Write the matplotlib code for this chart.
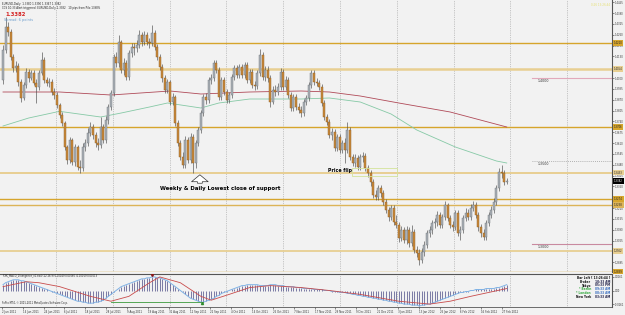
import numpy as np
import matplotlib
matplotlib.use("Agg")
import matplotlib.pyplot as plt
import matplotlib.transforms as mtransforms
from matplotlib.patches import Rectangle

# ---- daily candles (EURUSD), open of each bar = previous close ----
first_open = 1.3988
closes = [
    1.4168, 1.4306, 1.4276, 1.4126, 1.4060, 1.4072, 1.3976, 1.3880, 1.3958, 1.4036,
    1.4000, 1.4030, 1.3970, 1.3946, 1.4030, 1.4108, 1.3988, 1.3970, 1.3976, 1.3916,
    1.3898, 1.3838, 1.3778, 1.3730, 1.3586, 1.3508, 1.3628, 1.3496, 1.3586, 1.3466,
    1.3460, 1.3586, 1.3610, 1.3670, 1.3706, 1.3658, 1.3610, 1.3598, 1.3706, 1.3628,
    1.3748, 1.3826, 1.3910, 1.4126, 1.4090, 1.4216, 1.4048, 1.4090, 1.4006, 1.4150,
    1.4186, 1.4180, 1.4198, 1.4258, 1.4216, 1.4258, 1.4216, 1.4210, 1.4270, 1.4186,
    1.4126, 1.4066, 1.4000, 1.3928, 1.3976, 1.3856, 1.3886, 1.3730, 1.3610, 1.3526,
    1.3478, 1.3628, 1.3508, 1.3646, 1.3490, 1.3610, 1.3688, 1.3790, 1.3886, 1.3868,
    1.3988, 1.4000, 1.4090, 1.4048, 1.3886, 1.3988, 1.3916, 1.3868, 1.3898, 1.4006,
    1.4060, 1.4018, 1.4066, 1.4018, 1.4078, 1.3988, 1.4036, 1.3958, 1.3952, 1.4030,
    1.4138, 1.4006, 1.4048, 1.4000, 1.3856, 1.3928, 1.3916, 1.3946, 1.4036, 1.3946,
    1.3988, 1.3898, 1.3820, 1.3886, 1.3826, 1.3808, 1.3790, 1.3856, 1.3880, 1.3958,
    1.4030, 1.3976, 1.3970, 1.3946, 1.3850, 1.3766, 1.3736, 1.3658, 1.3676, 1.3580,
    1.3646, 1.3568, 1.3610, 1.3568, 1.3688, 1.3526, 1.3490, 1.3520, 1.3466, 1.3526,
    1.3532, 1.3460, 1.3430, 1.3376, 1.3298, 1.3286, 1.3340, 1.3310, 1.3256, 1.3208,
    1.3166, 1.3220, 1.3136, 1.3118, 1.3040, 1.3088, 1.3028, 1.3088, 1.3010, 1.3076,
    1.2968, 1.2950, 1.2908, 1.2956, 1.2998, 1.3070, 1.3088, 1.3130, 1.3136, 1.3178,
    1.3118, 1.3166, 1.3238, 1.3160, 1.3118, 1.3106, 1.3190, 1.3070, 1.3088, 1.3160,
    1.3190, 1.3166, 1.3220, 1.3238, 1.3178, 1.3106, 1.3070, 1.3046, 1.3130, 1.3178,
    1.3208, 1.3256, 1.3340, 1.3436, 1.3430, 1.3376, 1.3382]
highs = [
    1.4198, 1.4366, 1.4336, 1.4294, 1.4144, 1.4102, 1.4090, 1.3994, 1.3976, 1.4060,
    1.4054, 1.4048, 1.4048, 1.3994, 1.4048, 1.4156, 1.4126, 1.4006, 1.4000, 1.3994,
    1.3940, 1.3916, 1.3850, 1.3796, 1.3742, 1.3598, 1.3646, 1.3640, 1.3604, 1.3598,
    1.3508, 1.3610, 1.3634, 1.3700, 1.3736, 1.3724, 1.3676, 1.3640, 1.3766, 1.3724,
    1.3772, 1.3844, 1.3928, 1.4144, 1.4156, 1.4258, 1.4228, 1.4120, 1.4108, 1.4168,
    1.4210, 1.4210, 1.4228, 1.4288, 1.4276, 1.4282, 1.4276, 1.4240, 1.4318, 1.4288,
    1.4204, 1.4144, 1.4084, 1.4018, 1.3994, 1.3988, 1.3910, 1.3898, 1.3748, 1.3628,
    1.3556, 1.3652, 1.3646, 1.3670, 1.3664, 1.3628, 1.3706, 1.3808, 1.3904, 1.3910,
    1.4006, 1.4024, 1.4108, 1.4108, 1.4066, 1.4006, 1.4006, 1.3934, 1.3916, 1.4024,
    1.4078, 1.4078, 1.4084, 1.4084, 1.4096, 1.4096, 1.4054, 1.4054, 1.3982, 1.4048,
    1.4174, 1.4156, 1.4072, 1.4072, 1.4018, 1.3952, 1.3958, 1.3970, 1.4060, 1.4054,
    1.4012, 1.4006, 1.3916, 1.3904, 1.3904, 1.3850, 1.3832, 1.3874, 1.3898, 1.3976,
    1.4048, 1.4048, 1.4000, 1.3988, 1.3964, 1.3868, 1.3784, 1.3754, 1.3700, 1.3694,
    1.3664, 1.3664, 1.3628, 1.3640, 1.3736, 1.3706, 1.3544, 1.3544, 1.3538, 1.3544,
    1.3556, 1.3550, 1.3478, 1.3448, 1.3394, 1.3328, 1.3358, 1.3358, 1.3328, 1.3274,
    1.3226, 1.3238, 1.3238, 1.3178, 1.3136, 1.3112, 1.3106, 1.3112, 1.3106, 1.3118,
    1.3094, 1.2992, 1.2974, 1.2980, 1.3022, 1.3088, 1.3112, 1.3148, 1.3160, 1.3202,
    1.3196, 1.3184, 1.3262, 1.3250, 1.3178, 1.3142, 1.3208, 1.3208, 1.3112, 1.3178,
    1.3220, 1.3214, 1.3244, 1.3262, 1.3256, 1.3196, 1.3124, 1.3094, 1.3148, 1.3196,
    1.3232, 1.3280, 1.3358, 1.3460, 1.3478, 1.3448, 1.3400]
lows = [
    1.3964, 1.4150, 1.4252, 1.4108, 1.4036, 1.4036, 1.3952, 1.3856, 1.3868, 1.3940,
    1.3976, 1.3988, 1.3958, 1.3850, 1.3928, 1.4018, 1.3970, 1.3952, 1.3946, 1.3898,
    1.3874, 1.3820, 1.3760, 1.3712, 1.3568, 1.3484, 1.3490, 1.3478, 1.3472, 1.3448,
    1.3430, 1.3442, 1.3562, 1.3592, 1.3652, 1.3634, 1.3586, 1.3568, 1.3580, 1.3610,
    1.3610, 1.3724, 1.3808, 1.3892, 1.4066, 1.4066, 1.4030, 1.4018, 1.3988, 1.3988,
    1.4126, 1.4138, 1.4156, 1.4180, 1.4192, 1.4198, 1.4198, 1.4180, 1.4192, 1.4168,
    1.4108, 1.4048, 1.3976, 1.3910, 1.3910, 1.3838, 1.3838, 1.3712, 1.3592, 1.3508,
    1.3460, 1.3460, 1.3490, 1.3490, 1.3430, 1.3460, 1.3592, 1.3670, 1.3772, 1.3844,
    1.3850, 1.3964, 1.3982, 1.4030, 1.3868, 1.3868, 1.3898, 1.3850, 1.3850, 1.3880,
    1.3988, 1.4000, 1.4000, 1.4000, 1.4000, 1.3970, 1.3970, 1.3940, 1.3928, 1.3934,
    1.4012, 1.3988, 1.3982, 1.3976, 1.3826, 1.3844, 1.3892, 1.3898, 1.3928, 1.3928,
    1.3928, 1.3880, 1.3802, 1.3802, 1.3808, 1.3790, 1.3766, 1.3772, 1.3838, 1.3862,
    1.3940, 1.3958, 1.3952, 1.3928, 1.3832, 1.3748, 1.3718, 1.3640, 1.3628, 1.3562,
    1.3562, 1.3550, 1.3550, 1.3490, 1.3550, 1.3508, 1.3472, 1.3466, 1.3448, 1.3448,
    1.3496, 1.3442, 1.3406, 1.3352, 1.3280, 1.3268, 1.3268, 1.3286, 1.3238, 1.3190,
    1.3142, 1.3148, 1.3118, 1.3100, 1.3016, 1.3022, 1.3010, 1.3004, 1.2986, 1.2992,
    1.2950, 1.2926, 1.2878, 1.2890, 1.2932, 1.2980, 1.3046, 1.3064, 1.3100, 1.3112,
    1.3100, 1.3100, 1.3148, 1.3142, 1.3100, 1.3082, 1.3088, 1.3052, 1.3028, 1.3070,
    1.3142, 1.3148, 1.3148, 1.3202, 1.3160, 1.3082, 1.3046, 1.3028, 1.3028, 1.3112,
    1.3160, 1.3190, 1.3238, 1.3322, 1.3400, 1.3358, 1.3364]

# moving averages read at a few bars
ma_red_bar = [0, 22, 42, 65, 77, 96, 116, 127, 139, 154, 174, 196]
ma_red = [1.3916, 1.3916, 1.3898, 1.3922, 1.3904, 1.3916, 1.3922, 1.3916,
          1.3892, 1.3850, 1.3796, 1.3706]
ma_green_bar = [0, 10, 22, 38, 46, 57, 64, 77, 84, 96, 116, 127, 139, 151,
                161, 176, 192, 196]
ma_green = [1.3712, 1.3760, 1.3800, 1.3766, 1.3790, 1.3826, 1.3850, 1.3820,
            1.3850, 1.3874, 1.3874, 1.3880, 1.3856, 1.3784, 1.3688, 1.3586,
            1.3502, 1.3490]

# horizontal support / resistance levels
levels = [1.4210, 1.4054, 1.3706, 1.3433, 1.3274, 1.3238, 1.2962, 1.2839]
round_levels = [1.4000, 1.3500, 1.3000]
last_price = 1.3382

# MACD panel
macd = [
    0.0069, 0.0092, 0.0104, 0.0115, 0.0127, 0.0127,
    0.0127, 0.0115, 0.0115, 0.0104, 0.0092, 0.0081, 0.0069,
    0.0058, 0.0046, 0.0035, 0.0023, 0.0012, 0.0000, -0.0012,
    -0.0023, -0.0035, -0.0046, -0.0058, -0.0069, -0.0081, -0.0092, -0.0104,
    -0.0115, -0.0127, -0.0127, -0.0138, -0.0138, -0.0150, -0.0150,
    -0.0150, -0.0138, -0.0138, -0.0127,
    -0.0115, -0.0092, -0.0069, -0.0046, -0.0023, 0.0000,
    0.0023, 0.0046, 0.0058, 0.0069, 0.0081, 0.0092, 0.0104, 0.0115, 0.0127,
    0.0138, 0.0138, 0.0150, 0.0150,
    0.0161, 0.0161, 0.0150, 0.0150,
    0.0138, 0.0127, 0.0115, 0.0092, 0.0069, 0.0046, 0.0023, 0.0000, -0.0023,
    -0.0046, -0.0069, -0.0092, -0.0104, -0.0115, -0.0127, -0.0138,
    -0.0138, -0.0127, -0.0115, -0.0104, -0.0092, -0.0069, -0.0058, -0.0035,
    -0.0023, -0.0012, 0.0000,
    0.0012, 0.0023, 0.0035, 0.0046, 0.0058, 0.0058, 0.0069, 0.0069,
    0.0069, 0.0069, 0.0069, 0.0058, 0.0058, 0.0058, 0.0058, 0.0069, 0.0069,
    0.0069, 0.0058, 0.0058, 0.0058, 0.0046, 0.0046, 0.0046,
    0.0046, 0.0035, 0.0035, 0.0035, 0.0023, 0.0023, 0.0023, 0.0023, 0.0012,
    0.0012, 0.0012,
    0.0012, 0.0000, 0.0000, 0.0000, -0.0012, -0.0012, -0.0012, -0.0023,
    -0.0023, -0.0023,
    -0.0035, -0.0035, -0.0046, -0.0046, -0.0058, -0.0058, -0.0069, -0.0069,
    -0.0081, -0.0081, -0.0092, -0.0092, -0.0104, -0.0104, -0.0115, -0.0115,
    -0.0127, -0.0127, -0.0138, -0.0138, -0.0150, -0.0150, -0.0161, -0.0161,
    -0.0161,
    -0.0173, -0.0173, -0.0173, -0.0184, -0.0173, -0.0173, -0.0161, -0.0161,
    -0.0150, -0.0138, -0.0127, -0.0115, -0.0104, -0.0092, -0.0081, -0.0069,
    -0.0058, -0.0046, -0.0035,
    -0.0023, -0.0023, -0.0012, -0.0012, 0.0000, 0.0000, 0.0012, 0.0012,
    0.0012, 0.0012, 0.0023, 0.0023, 0.0023, 0.0023, 0.0035, 0.0035, 0.0046,
    0.0058, 0.0069]
signal_bar = [0, 9, 14, 22, 34, 42, 49, 57, 61, 69, 77, 81, 88, 96, 104, 116,
              127, 139, 154, 166, 174, 182, 189, 196]
signal = [0.0046, 0.0104, 0.0092, 0.0046, -0.0069, -0.0127, -0.0069, 0.0092,
          0.0161, 0.0092, -0.0069, -0.0115, -0.0046, 0.0035, 0.0058, 0.0035,
          0.0000, -0.0046, -0.0127, -0.0161, -0.0127, -0.0069, -0.0023, 0.0023]
div_bar = [42, 78]
div_val = [-0.0135, -0.0135]

dates = ["2 Jun 2011", "14 Jun 2011", "24 Jun 2011", "6 Jul 2011", "18 Jul 2011",
         "28 Jul 2011", "9 Aug 2011", "19 Aug 2011", "31 Aug 2011", "12 Sep 2011",
         "22 Sep 2011", "4 Oct 2011", "14 Oct 2011", "26 Oct 2011", "7 Nov 2011",
         "17 Nov 2011", "29 Nov 2011", "9 Dec 2011", "21 Dec 2011", "3 Jan 2012",
         "13 Jan 2012", "25 Jan 2012", "6 Feb 2012", "16 Feb 2012", "27 Feb 2012"]

W, H = 625, 315
BG = '#f2f2f2'
GOLD = '#d6a52c'
GOLD_L = '#e8cf92'
GOLD_M = '#dcb458'

fig = plt.figure(figsize=(W / 100, H / 100), dpi=100)
fig.patch.set_facecolor(BG)
pix = mtransforms.Affine2D().scale(1 / W, -1 / H).translate(0, 1) + fig.transFigure

ax = fig.add_axes([0, 43 / H, 612 / W, 272 / H])
axm = fig.add_axes([0, 8 / H, 612 / W, 33 / H])
xlim = (-1.17, 236.96)

for a in (ax, axm):
    a.set_facecolor(BG)
    a.set_xlim(*xlim)
    for s in ('top', 'left', 'bottom'):
        a.spines[s].set_visible(False)
    a.spines['right'].set_color('#555555')
    a.spines['right'].set_linewidth(0.8)
    a.yaxis.tick_right()
    a.tick_params(axis='y', labelsize=1.8, length=1.5, width=0.4, pad=0.6,
                  colors='#333333')
    # dotted vertical grid every ~57 px
    for gp in np.arange(56, 612, 56.8):
        a.axvline((gp - 3) / 2.57, color='#9a9a9a', lw=0.5, ls=(0, (1, 1.6)), zorder=1)

# ---- main price panel ----
ax.set_ylim(1.2836, 1.4468)
ax.set_xticks([])
ticks = np.round(1.4000 + 0.0065 * np.arange(-17, 8), 4)
ax.set_yticks(ticks, [f'{t:.4f}' for t in ticks])

x = np.arange(len(closes))
opens = np.array([first_open] + closes[:-1])
c = np.array(closes)
up = c >= opens
lo = np.minimum(opens, c)
hgt = np.maximum(np.abs(c - opens), 0.00025)

lvl_color = [GOLD, GOLD_L, GOLD, GOLD_L, GOLD, GOLD_M, GOLD_L, GOLD]
lvl_width = [1.0, 1.8, 1.0, 1.4, 1.0, 1.0, 1.3, 1.0]
blend = mtransforms.blended_transform_factory(ax.transAxes, ax.transData)
for lv, col, lw in zip(levels, lvl_color, lvl_width):
    ax.axhline(lv, color=col, lw=lw, zorder=2)
    ax.text(1.003, lv, f'{lv:.4f}', transform=blend, fontsize=1.8, color='#222222',
            va='center', ha='left', clip_on=False, zorder=10,
            bbox=dict(boxstyle='square,pad=0.35', fc=col, ec='none'))
ax.text(1.003, last_price, f'{last_price:.4f}', transform=blend, fontsize=1.8,
        color='white', va='center', ha='left', clip_on=False, zorder=11,
        bbox=dict(boxstyle='square,pad=0.35', fc='black', ec='none'))

ax.plot(ma_red_bar, ma_red, color='#b04a58', lw=0.6, zorder=2.5)
ax.plot(ma_green_bar, ma_green, color='#86c9a6', lw=0.6, zorder=2.5)

ax.vlines(x, lows, highs, color='#4d4d4d', lw=0.45, zorder=3)
ax.bar(x, hgt, bottom=lo, width=0.78,
       color=['#aab0b6' if u else '#c98a3c' for u in up],
       edgecolor=['#6e7379' if u else '#8c5c22' for u in up],
       linewidth=0.3, zorder=4)

# round-number markers on the right
ax.plot([205.8, 237], [round_levels[0]] * 2, color='#e2a9bb', lw=0.8, zorder=2)
ax.plot([205.8, 237], [round_levels[1] + 0.0003] * 2, color='#9c9c9c', lw=0.6,
        ls=(0, (1, 1.5)), zorder=2)
ax.plot([205.8, 237], [round_levels[2] + 0.0002] * 2, color='#c98aa0', lw=0.8, zorder=2)
for rl, dy in zip(round_levels, [-0.0016, -0.0018, -0.0014]):
    ax.text(208.2, rl + dy, f'{rl:.4f}', fontsize=2.3, color='#333333',
            va='center', ha='left')

# annotations
ax.annotate('', xy=(76.6, 1.3436), xytext=(76.6, 1.3352),
            arrowprops=dict(arrowstyle='simple,head_length=1.0,head_width=2.4,tail_width=0.7',
                            fc='white', ec='#333333', lw=0.5, mutation_scale=5))
ax.text(61.1, 1.3340, 'Weekly & Daily Lowest close of support', fontsize=3.85,
        fontweight='bold', color='black', va='center', ha='left', zorder=6)
ax.text(126.5, 1.3448, 'Price flip', fontsize=3.4, fontweight='bold', color='black',
        va='center', ha='left', zorder=6)
ax.add_patch(Rectangle((135.8, 1.3412), 17.5, 0.0048, fill=False, ec='#d3e39a',
                       lw=0.6, zorder=5))

# header texts
fig.text(2, 4, 'EURUSD,Daily  1.3380 1.3390 1.3367 1.3382', transform=pix,
         fontsize=1.9, color='#222222', va='center')
fig.text(2, 8, 'CCS 10:33 Alert triggered: EURUSD,Daily 1.3382   10 pips from Pilo 1398%',
         transform=pix, fontsize=1.9, color='#222222', va='center')
fig.text(5, 15, '1.3382', transform=pix, fontsize=3.8, fontweight='bold',
         color='#d42020', va='center')
fig.text(4, 20.5, 'Spread: 6 points', transform=pix, fontsize=2.5,
         color='#6a9ccc', va='center')
fig.text(610, 5, '0:26 13:26:44', transform=pix, fontsize=2.0, color='#e6e070',
         va='center', ha='right')

# ---- MACD panel ----
axm.set_ylim(-0.01955, 0.01955)
axm.spines['top'].set_visible(True)
axm.spines['top'].set_color('#555555')
axm.spines['top'].set_linewidth(0.8)
axm.spines['bottom'].set_visible(True)
axm.spines['bottom'].set_color('#555555')
axm.spines['bottom'].set_linewidth(0.6)
axm.set_yticks([0.0161, 0.0, -0.0161], ['0.0161', '0.00', '-0.0161'])
axm.vlines(x, 0, macd, color='#4b4b86', lw=0.5, zorder=3)
axm.plot(x, macd, color='#7fb2e5', lw=0.7, zorder=4)
axm.plot(signal_bar, signal, color='#c84b4b', lw=0.6, zorder=4)
axm.plot(div_bar, div_val, color='#3c9a3c', lw=0.6, zorder=4)
axm.plot([58], [0.0184], marker='v', ms=1.5, color='#8b1a1a', zorder=5)
axm.plot([77.3], [-0.0150], marker='^', ms=1.5, color='#2e8b2e', zorder=5)

tick_pos = np.linspace(-0.4, 194.2, len(dates))
axm.set_xticks(tick_pos, dates, ha='left', fontsize=1.9, color='#222222')
axm.tick_params(axis='x', length=1.5, width=0.4, pad=0.6, colors='#333333')

fig.text(3, 276.5, 'FXK_MACD_Divergence_v1.ex4 (12,26,9) 0.00049 0.00060 -0.00019 0.00013',
         transform=pix, fontsize=1.8, color='#222222', va='center')
fig.text(2, 303, 'FxPro MT4, \u00a9 2001-2011 MetaQuotes Software Corp.', transform=pix,
         fontsize=1.8, color='#222222', va='center')

# session clock block
fig.text(610, 277.7, 'Bar Left [ 13:26:44 ]', transform=pix, fontsize=2.1,
         fontweight='bold', color='#111111', va='center', ha='right')
clock = [('Broker', '10:33 AM', '#111111', '#22224a'),
         ('Tokyo', '05:33 PM', '#111111', '#22224a'),
         ('* Berlin', '09:33 AM', '#2fa83a', '#3a6fc0'),
         ('* London', '08:33 AM', '#2fa83a', '#3a6fc0'),
         ('New York', '03:33 AM', '#111111', '#22224a')]
for i, (city, tm, c1, c2) in enumerate(clock):
    yy = 281.7 + i * 3.8
    fig.text(591, yy, city, transform=pix, fontsize=2.1, fontweight='bold',
             color=c1, va='center', ha='right')
    fig.text(610, yy, tm, transform=pix, fontsize=2.1, fontweight='bold',
             color=c2, va='center', ha='right')

fig.savefig('out.png', dpi=100, facecolor=BG)
